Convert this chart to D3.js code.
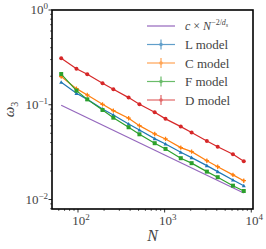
<!DOCTYPE html>
<html>
<head>
<meta charset="utf-8">
<script src="https://cdn.jsdelivr.net/npm/d3@7"></script>
<style>
  body { margin: 0; background: #fff; }
  text { font-family: "Liberation Serif", "DejaVu Serif", serif; }
</style>
</head>
<body>
<div id="chart"></div>
<script>
// system sizes
const sizes = [64, 96, 128, 192, 256, 384, 512, 768, 1024, 1536, 2048, 3072, 4096, 6144, 8192];

// omega_3 per model
const lModel = [0.173, 0.132, 0.114, 0.0903, 0.078, 0.0627, 0.0542, 0.0439, 0.0386, 0.0316, 0.0277, 0.0228, 0.0197, 0.0161, 0.0140];
const cModel = [0.198, 0.148, 0.127, 0.101, 0.0867, 0.0721, 0.0602, 0.0492, 0.0436, 0.0353, 0.0320, 0.0257, 0.0222, 0.0182, 0.0158];
const fModel = [0.211, 0.141, 0.114, 0.0881, 0.0731, 0.0579, 0.0488, 0.0393, 0.0342, 0.0273, 0.0242, 0.0197, 0.0172, 0.0140, 0.0123];
const dModel = [0.309, 0.240, 0.210, 0.169, 0.146, 0.119, 0.101, 0.0834, 0.071, 0.0588, 0.051, 0.0415, 0.0361, 0.0300, 0.0253];

// errors (only the C model ones are visible)
const cErr = [0.006, 0.005, 0.004, 0.003, 0.003, 0.0025, 0.002, 0.0017, 0.0015, 0.0012, 0.0011, 0.0009, 0.0008, 0.0006, 0.0006];

// reference power law, end points
const refN = [64, 8192];
const refVal = [0.099, 0.0117];

const xTicks = [1e2, 1e3, 1e4];
const xTickExp = ["2", "3", "4"];
const yTicks = [1e-2, 1e-1, 1];
const yTickExp = ["\u22122", "\u22121", "0"];

const width = 266, height = 249;
const m = {left: 52, right: 253, top: 10, bottom: 209};

const svg = d3.select("#chart").append("svg")
    .attr("width", width)
    .attr("height", height);

const x = d3.scaleLog().domain([Math.pow(10, 1.70), Math.pow(10, 4.02)]).range([m.left, m.right]);
const y = d3.scaleLog().domain([Math.pow(10, -2.1), 1]).range([m.bottom, m.top]);

const series = [
    {name: "L model", vals: lModel, color: "#1f77b4", marker: "tri"},
    {name: "C model", vals: cModel, color: "#ff7f0e", marker: "plus", err: cErr},
    {name: "F model", vals: fModel, color: "#2ca02c", marker: "square"},
    {name: "D model", vals: dModel, color: "#d62728", marker: "circle"},
];

// minor ticks
const xMinor = [], yMinor = [];
[10, 100, 1000, 10000].forEach(d => { for (let k = 2; k < 10; k++) { const v = d * k; if (v > x.domain()[0] && v < x.domain()[1]) xMinor.push(v); } });
[0.001, 0.01, 0.1].forEach(d => { for (let k = 2; k < 10; k++) { const v = d * k; if (v > y.domain()[0] && v < y.domain()[1]) yMinor.push(v); } });

const axes = svg.append("g");
axes.selectAll(".xminor").data(xMinor).enter().append("line")
    .attr("x1", d => x(d)).attr("x2", d => x(d))
    .attr("y1", m.bottom).attr("y2", m.bottom + 2)
    .attr("stroke", "#000").attr("stroke-width", 0.6);
axes.selectAll(".yminor").data(yMinor).enter().append("line")
    .attr("y1", d => y(d)).attr("y2", d => y(d))
    .attr("x1", m.left).attr("x2", m.left - 2)
    .attr("stroke", "#000").attr("stroke-width", 0.6);
axes.selectAll(".xmajor").data(xTicks).enter().append("line")
    .attr("x1", d => x(d)).attr("x2", d => x(d))
    .attr("y1", m.bottom).attr("y2", m.bottom + 3.5)
    .attr("stroke", "#000").attr("stroke-width", 0.8);
axes.selectAll(".ymajor").data(yTicks).enter().append("line")
    .attr("y1", d => y(d)).attr("y2", d => y(d))
    .attr("x1", m.left).attr("x2", m.left - 3.5)
    .attr("stroke", "#000").attr("stroke-width", 0.8);

// tick labels
const xl = axes.selectAll(".xlab").data(xTicks).enter().append("text")
    .attr("x", d => x(d) + 3).attr("y", m.bottom + 16)
    .attr("text-anchor", "middle").attr("font-size", 13).attr("fill", "#444");
xl.append("tspan").text("10");
xl.append("tspan").attr("dy", -5).attr("font-size", 9).text((d, i) => xTickExp[i]);

const yl = axes.selectAll(".ylab").data(yTicks).enter().append("text")
    .attr("x", m.left - 4).attr("y", d => y(d) + 4)
    .attr("text-anchor", "end").attr("font-size", 13).attr("fill", "#444");
yl.append("tspan").text("10");
yl.append("tspan").attr("dy", -5).attr("font-size", 9).text((d, i) => yTickExp[i]);

// axis labels
svg.append("text")
    .attr("x", (m.left + m.right) / 2).attr("y", 241)
    .attr("text-anchor", "middle").attr("font-size", 16)
    .attr("font-style", "italic").attr("fill", "#444").text("N");
const yt = svg.append("text")
    .attr("transform", `translate(14,${(m.top + m.bottom) / 2}) rotate(-90)`)
    .attr("text-anchor", "middle").attr("font-size", 15).attr("fill", "#444");
yt.append("tspan").attr("font-style", "italic").text("\u03c9");
yt.append("tspan").attr("dy", 4).attr("font-size", 10).text("3");

// data
const plot = svg.append("g");
const line = d3.line().x(d => x(d[0])).y(d => y(d[1]));

plot.append("path")
    .attr("d", line(refN.map((n, i) => [n, refVal[i]])))
    .attr("fill", "none").attr("stroke", "#9467bd").attr("stroke-width", 1.2);

function drawMarker(g, type, color, s) {
    if (type === "tri") {
        g.append("path").attr("d", `M0,${-s}L${s},${s * 0.8}L${-s},${s * 0.8}Z`).attr("fill", color);
    } else if (type === "square") {
        g.append("rect").attr("x", -s).attr("y", -s).attr("width", 2 * s).attr("height", 2 * s).attr("fill", color);
    } else if (type === "circle") {
        g.append("circle").attr("r", s).attr("fill", color);
    } else {
        g.append("path").attr("d", `M${-s},0H${s}M0,${-s}V${s}`).attr("stroke", color).attr("stroke-width", 1.2);
    }
}

series.forEach(s => {
    const pts = sizes.map((n, i) => [n, s.vals[i]]);
    plot.append("path")
        .attr("d", line(pts))
        .attr("fill", "none").attr("stroke", s.color).attr("stroke-width", 1.2);
    if (s.err) {
        plot.selectAll(null).data(pts).enter().append("line")
            .attr("x1", d => x(d[0])).attr("x2", d => x(d[0]))
            .attr("y1", (d, i) => y(d[1] - s.err[i])).attr("y2", (d, i) => y(d[1] + s.err[i]))
            .attr("stroke", s.color).attr("stroke-width", 1.2);
    }
    pts.forEach(p => {
        const g = plot.append("g").attr("transform", `translate(${x(p[0])},${y(p[1])})`);
        drawMarker(g, s.marker, s.color, s.marker === "plus" ? 2.2 : 2);
    });
});

// frame
svg.append("rect")
    .attr("x", m.left).attr("y", m.top)
    .attr("width", m.right - m.left).attr("height", m.bottom - m.top)
    .attr("fill", "none").attr("stroke", "#000").attr("stroke-width", 1.6);

// legend
const lg = svg.append("g");
const lx0 = 147, lx1 = 175, ly0 = 26, ldy = 18.5;
lg.append("line").attr("x1", lx0).attr("x2", lx1).attr("y1", ly0).attr("y2", ly0)
    .attr("stroke", "#9467bd").attr("stroke-width", 1.2);
const eq = lg.append("text").attr("x", 185).attr("y", ly0 + 4).attr("font-size", 12).attr("fill", "#444");
eq.append("tspan").attr("font-style", "italic").text("c");
eq.append("tspan").text(" \u00d7 ");
eq.append("tspan").attr("font-style", "italic").text("N");
eq.append("tspan").attr("dy", -5).attr("font-size", 8).text("\u22122/");
eq.append("tspan").attr("font-size", 8).attr("font-style", "italic").text("d");
eq.append("tspan").attr("dy", 2).attr("font-size", 6).attr("font-style", "italic").text("s");

series.forEach((s, i) => {
    const yy = ly0 + ldy * (i + 1);
    const g = lg.append("g").attr("opacity", 0.7);
    g.append("line").attr("x1", lx0).attr("x2", lx1).attr("y1", yy).attr("y2", yy)
        .attr("stroke", s.color).attr("stroke-width", 1.2);
    g.append("line").attr("x1", (lx0 + lx1) / 2).attr("x2", (lx0 + lx1) / 2).attr("y1", yy - 5).attr("y2", yy + 5)
        .attr("stroke", s.color).attr("stroke-width", 1.2);
    g.append("circle").attr("cx", (lx0 + lx1) / 2).attr("cy", yy).attr("r", 1.8).attr("fill", s.color);
    lg.append("text").attr("x", 185).attr("y", yy + 4.5)
        .attr("font-size", 13).attr("fill", "#444").text(s.name);
});
</script>
</body>
</html>
